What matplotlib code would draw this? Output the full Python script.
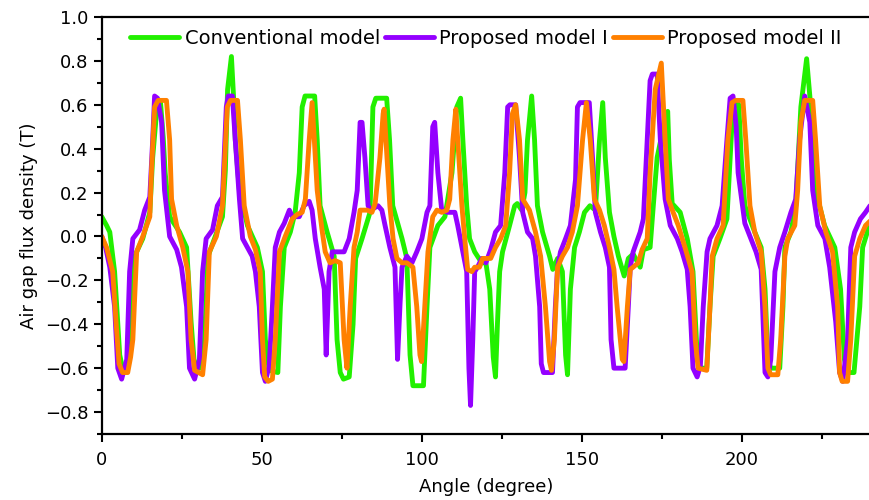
import matplotlib
matplotlib.use("Agg")
import matplotlib.pyplot as plt
from matplotlib.ticker import MultipleLocator

plt.rcParams['font.family'] = ['DejaVu Sans']

# Air gap flux density against rotor angle, (angle in degree, B in T) pairs
conv_angle = [0, 1.5, 2.5, 4, 5.0, 5.6, 6.5, 7.8, 9.0, 9.8, 10.3, 11.2, 12.8, 15, 15.9, 17.2,
              18.3, 19.2, 19.8, 21.2, 24.3, 26.5, 27.9, 28.8, 29.6, 30.8, 32.0, 32.6, 33.2,
              35.2, 37.7, 38.6, 39.3, 40.5, 41.3, 41.7, 43, 45.5, 48.6, 50.2, 51.1, 52.3, 55.0,
              55.8, 57, 58.9, 60.4, 61.7, 62.6, 63.5, 66.5, 67.3, 68.2, 70.4, 72.6, 73.5, 74.5,
              75.5, 77.3, 78.5, 79.3, 81.3, 83.8, 84.7, 85.6, 89.0, 89.9, 90.9, 93.8, 95.3,
              96.3, 97.2, 100.5, 101.6, 102.5, 105, 107.2, 109.4, 110.9, 112.1, 112.8, 114,
              114.9, 116.5, 118.7, 120, 121.2, 122.3, 123, 123.6, 124.3, 125.2, 127.4, 129,
              129.8, 131.2, 132.2, 133, 134.3, 135.2, 136.1, 137.7, 139.9, 140.9, 142.4, 143.9,
              144.9, 145.5, 146.4, 147.7, 149.2, 150.8, 152.5, 154.2, 155.5, 156.5, 157.3,
              158.6, 160, 161.4, 163.2, 164.5, 166, 167.5, 168.2, 169.2, 171.3, 172.3, 173.5,
              175.5, 176.8, 177.3, 178.2, 180.7, 182.9, 184.7, 186, 187, 189, 190, 191, 193.1,
              195.3, 196.9, 197.8, 199, 199.8, 200.9, 204, 206, 207.2, 208.1, 209, 211.8, 212.8,
              213.4, 215.3, 216.8, 218.4, 220.2, 221.5, 223, 225.8, 229, 230.8, 232, 233, 235,
              236.8, 237.7, 240]
conv_b = [0.09, 0.05, 0.02, -0.16, -0.40, -0.54, -0.60, -0.61, -0.50, -0.20, -0.09, -0.06,
          -0.01, 0.11, 0.36, 0.58, 0.62, 0.45, 0.29, 0.09, 0.02, -0.05, -0.39, -0.56, -0.60,
          -0.60, -0.50, -0.30, -0.09, -0.01, 0.09, 0.30, 0.67, 0.82, 0.60, 0.44, 0.21, 0.05,
          -0.05, -0.16, -0.47, -0.61, -0.62, -0.32, -0.05, 0.02, 0.11, 0.29, 0.59, 0.64, 0.64,
          0.44, 0.14, 0.02, -0.09, -0.47, -0.62, -0.65, -0.64, -0.40, -0.10, -0.01, 0.11,
          0.59, 0.63, 0.63, 0.44, 0.14, -0.01, -0.10, -0.54, -0.68, -0.68, -0.32, -0.05,
          0.05, 0.09, 0.29, 0.59, 0.63, 0.44, 0.14, -0.01, -0.07, -0.12, -0.12, -0.24, -0.55,
          -0.64, -0.40, -0.16, -0.07, 0.05, 0.14, 0.15, 0.12, 0.20, 0.44, 0.64, 0.44, 0.14,
          0.02, -0.09, -0.15, -0.10, -0.16, -0.54, -0.63, -0.24, -0.05, 0.02, 0.11, 0.14,
          0.12, 0.44, 0.61, 0.36, 0.11, 0.00, -0.09, -0.18, -0.10, -0.08, -0.12, -0.14,
          -0.06, -0.05, 0.14, 0.36, 0.50, 0.57, 0.35, 0.15, 0.11, -0.01, -0.16, -0.54, -0.60,
          -0.60, -0.32, -0.09, -0.01, 0.08, 0.52, 0.62, 0.60, 0.35, 0.14, 0.02, -0.05, -0.24,
          -0.56, -0.60, -0.60, -0.32, -0.05, 0.02, 0.14, 0.59, 0.81, 0.59, 0.21, 0.05, -0.05,
          -0.24, -0.56, -0.62, -0.62, -0.32, -0.05, 0.06]

prop1_angle = [0, 1.2, 2.5, 4, 5, 6.2, 7.8, 8.7, 9.7, 11.8, 13.4, 15, 15.9, 16.5, 17.4, 18.7,
               19.6, 21.2, 23.4, 24.9, 26.5, 27.4, 29, 30.5, 31.5, 32.6, 34.6, 36.1, 37.7,
               38.9, 39.5, 40.8, 41.7, 43, 44, 45.5, 47, 48, 49.2, 50.2, 51.1, 52.3, 53.3,
               54.2, 55.5, 57, 58.6, 59.5, 61.7, 63.2, 64.8, 65.7, 66.7, 68.2, 69.5, 70.1, 71,
               72, 75.7, 77.3, 78.8, 79.8, 80.7, 81.3, 82.2, 83.2, 84, 86.3, 87.5, 88.5, 90,
               91.6, 92.4, 93.2, 93.8, 95.3, 96.9, 98.4, 100, 101.6, 102.5, 103.4, 104, 105,
               106.2, 108.1, 110.3, 111.2, 112.8, 114, 114.7, 115.2, 115.9, 116.5, 117.4, 118.7,
               120, 121.5, 123, 124.6, 125.9, 126.8, 127.5, 129.3, 130.5, 131.5, 133, 134.6,
               135.5, 136.8, 137.3, 138, 140.8, 141.7, 142.4, 143.3, 144.9, 146.4, 148, 148.6,
               149.4, 152.3, 153.3, 154.2, 155.8, 157.3, 158.6, 159.1, 160, 163.5, 164.5, 165.1,
               166, 168.2, 169.2, 170.4, 171.3, 172, 173.5, 174.5, 176, 177.6, 179.8, 181.3,
               182.9, 183.8, 184.7, 186, 187, 187.9, 189.1, 190, 192.2, 193.8, 195.3, 196.3,
               197.2, 198.2, 198.8, 200.9, 202.8, 204.4, 206, 207.2, 208.1, 209, 210.3, 211.8,
               213.4, 215.3, 216.8, 218, 219.6, 221.2, 222.1, 223.7, 225.9, 227.4, 229.3, 230.5,
               231.5, 233, 234, 235.2, 237, 238.6, 240]
prop1_b = [0.00, -0.05, -0.14, -0.32, -0.60, -0.65, -0.56, -0.16, -0.01, 0.03, 0.12, 0.18,
           0.44, 0.64, 0.63, 0.52, 0.21, 0.00, -0.06, -0.14, -0.32, -0.60, -0.65, -0.56,
           -0.16, -0.01, 0.03, 0.14, 0.18, 0.59, 0.64, 0.64, 0.44, 0.17, -0.01, -0.05, -0.09,
           -0.16, -0.32, -0.62, -0.66, -0.59, -0.32, -0.05, 0.02, 0.06, 0.12, 0.09, 0.09,
           0.14, 0.16, 0.12, -0.01, -0.14, -0.24, -0.54, -0.16, -0.07, -0.07, -0.01, 0.11,
           0.21, 0.52, 0.52, 0.36, 0.14, 0.12, 0.14, 0.12, 0.05, -0.05, -0.14, -0.56, -0.30,
           -0.14, -0.09, -0.12, -0.07, -0.01, 0.11, 0.14, 0.50, 0.52, 0.29, 0.12, 0.11, 0.11,
           0.05, -0.07, -0.16, -0.60, -0.77, -0.47, -0.16, -0.14, -0.10, -0.12, -0.06, 0.02,
           0.05, 0.29, 0.59, 0.60, 0.60, 0.36, 0.11, 0.02, -0.01, -0.09, -0.32, -0.58, -0.62,
           -0.62, -0.32, -0.14, -0.07, -0.01, 0.05, 0.26, 0.59, 0.61, 0.61, 0.36, 0.11, 0.02,
           -0.05, -0.14, -0.47, -0.60, -0.60, -0.32, -0.14, -0.07, 0.02, 0.08, 0.44, 0.71,
           0.74, 0.74, 0.44, 0.17, 0.05, -0.01, -0.07, -0.15, -0.32, -0.60, -0.64, -0.59,
           -0.32, -0.07, -0.01, 0.05, 0.14, 0.44, 0.63, 0.64, 0.50, 0.29, 0.06, -0.01, -0.07,
           -0.15, -0.62, -0.64, -0.56, -0.16, -0.05, 0.02, 0.11, 0.17, 0.44, 0.64, 0.52, 0.21,
           0.05, -0.01, -0.14, -0.39, -0.62, -0.66, -0.47, -0.05, 0.02, 0.08, 0.11, 0.14]

prop2_angle = [0, 1.5, 3.4, 4.5, 5.4, 6.5, 8.1, 9.0, 9.7, 10.9, 12.8, 15, 15.5, 16.5, 17.6,
               20.2, 21.2, 21.8, 23.4, 25.3, 26.9, 27.9, 29, 31.5, 32.6, 33.6, 35.8, 37.7,
               39.2, 40.2, 42.4, 43.3, 44.5, 46.4, 48, 49.5, 50.2, 50.9, 52, 53.3, 54.2, 55.5,
               57.3, 59.5, 61, 62.6, 63.6, 64.8, 65.7, 66.4, 67.3, 68.8, 69.8, 71.3, 72.9, 74.5,
               75.7, 76.6, 77.6, 78.8, 79.8, 80.7, 82.9, 84.4, 85.4, 86.9, 87.9, 88.2, 89.1, 90,
               91, 92.2, 93.8, 95.3, 97.2, 98.4, 99.4, 99.9, 100.9, 101.9, 103.4, 104.7, 106.2,
               107.8, 108.7, 109.7, 110.6, 111.2, 112.5, 113.4, 114.3, 115.6, 116.5, 118, 119,
               120.5, 121.5, 123, 124.6, 126.2, 127.4, 128.3, 129.3, 130.5, 131.5, 133.6, 135.5,
               137.1, 138.6, 139.9, 140.5, 141.4, 142.4, 143.9, 145.5, 147, 148.6, 150.2, 151.4,
               152.6, 153.9, 155.5, 157, 158.6, 160, 161, 162.6, 163.1, 164.2, 165.1, 166, 167.6,
               168.8, 170.4, 171.3, 172.9, 174.8, 176, 177, 178.5, 180.1, 182.2, 184.4, 185.4,
               186.3, 189, 190, 190.7, 192.2, 194.1, 195.6, 196.9, 198, 200.3, 201.2, 202.5,
               204, 206, 207.2, 208.1, 209, 211.2, 212.1, 213.4, 214.3, 216.5, 217.4, 218.4,
               219.6, 222.1, 223, 224.3, 226.2, 228.3, 229.9, 230.5, 231.3, 233, 234, 235.2,
               236.8, 238.6, 240]
prop2_b = [0.00, -0.05, -0.16, -0.40, -0.58, -0.62, -0.62, -0.55, -0.47, -0.07, 0.00, 0.09,
           0.29, 0.59, 0.62, 0.62, 0.44, 0.17, 0.05, -0.05, -0.16, -0.47, -0.61, -0.63, -0.47,
           -0.07, 0.00, 0.14, 0.59, 0.62, 0.62, 0.44, 0.14, 0.00, -0.06, -0.16, -0.47, -0.64,
           -0.66, -0.65, -0.47, -0.07, 0.00, 0.08, 0.10, 0.11, 0.17, 0.44, 0.61, 0.44, 0.21,
           0.03, -0.07, -0.12, -0.11, -0.12, -0.47, -0.60, -0.32, -0.05, 0.02, 0.12, 0.12,
           0.11, 0.15, 0.36, 0.56, 0.58, 0.36, 0.14, -0.01, -0.10, -0.12, -0.12, -0.14, -0.32,
           -0.54, -0.57, -0.32, -0.07, 0.09, 0.12, 0.11, 0.12, 0.17, 0.44, 0.58, 0.44, 0.14,
           -0.01, -0.15, -0.16, -0.14, -0.14, -0.10, -0.10, -0.10, -0.05, -0.01, 0.05, 0.29,
           0.56, 0.60, 0.44, 0.17, 0.12, 0.02, -0.09, -0.32, -0.57, -0.61, -0.47, -0.14, -0.09,
           -0.05, 0.02, 0.14, 0.44, 0.61, 0.44, 0.17, 0.12, 0.05, -0.05, -0.15, -0.32, -0.56,
           -0.57, -0.32, -0.15, -0.14, -0.12, -0.06, -0.01, 0.29, 0.67, 0.79, 0.44, 0.17, 0.11,
           0.05, -0.05, -0.16, -0.47, -0.60, -0.61, -0.32, -0.09, -0.01, 0.05, 0.44, 0.61,
           0.62, 0.62, 0.44, 0.14, 0.02, -0.07, -0.32, -0.60, -0.63, -0.63, -0.47, -0.09,
           -0.01, 0.05, 0.21, 0.52, 0.62, 0.62, 0.44, 0.14, 0.02, -0.07, -0.32, -0.62, -0.66,
           -0.66, -0.47, -0.09, -0.01, 0.05, 0.07]

series = [
    ("Conventional model", conv_angle, conv_b, "#22f000"),
    ("Proposed model I", prop1_angle, prop1_b, "#9400ff"),
    ("Proposed model II", prop2_angle, prop2_b, "#ff8000"),
]


def main():
    fig = plt.figure(figsize=(8.7, 5.0), dpi=100)
    ax = fig.add_axes([0.117, 0.132, 0.883, 0.834])

    for name, x, y, color in series:
        ax.plot(x, y, color=color, lw=3.5, label=name,
                solid_joinstyle="round", solid_capstyle="round")

    ax.set_xlim(0, 240)
    ax.set_ylim(-0.9, 1.0)
    ax.xaxis.set_major_locator(MultipleLocator(50))
    ax.xaxis.set_minor_locator(MultipleLocator(25))
    ax.yaxis.set_major_locator(MultipleLocator(0.2))
    ax.yaxis.set_minor_locator(MultipleLocator(0.1))
    ax.tick_params(which="major", direction="out", length=6, width=1.5, labelsize=13)
    ax.tick_params(which="minor", direction="out", length=3.5, width=1.5)
    ax.tick_params(axis="x", which="major", pad=6)
    ax.yaxis.set_major_formatter(plt.FuncFormatter(lambda v, _: ("%.1f" % v).replace("-", "\u2212")))
    for side in ("left", "bottom", "top"):
        ax.spines[side].set_linewidth(1.6)
    ax.spines["right"].set_visible(False)

    ax.set_xlabel("Angle (degree)", fontsize=13, labelpad=7)
    ax.set_ylabel("Air gap flux density (T)", fontsize=13, labelpad=5)

    ax.legend(loc="upper left", bbox_to_anchor=(0.027, 0.99), ncol=3, frameon=False,
              fontsize=14, handlelength=2.5, handletextpad=0.3, columnspacing=0.25,
              borderaxespad=0.0)

    fig.savefig("out.png", dpi=100)


if __name__ == '__main__':
    main()
